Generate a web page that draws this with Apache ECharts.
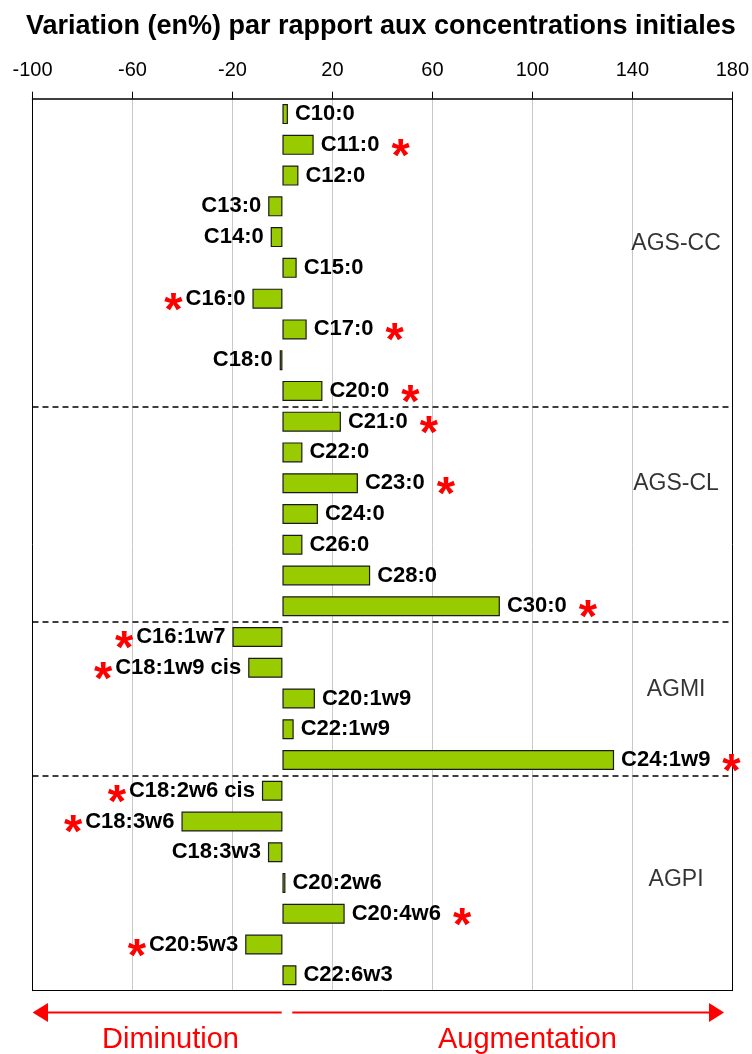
<!DOCTYPE html>
<html>
<head>
<meta charset="utf-8">
<script src="https://cdn.jsdelivr.net/npm/echarts@6/dist/echarts.min.js"></script>
<style>
html,body{margin:0;padding:0;background:#fff;}
#chart{width:752px;height:1054px;}
</style>
</head>
<body>
<div id="chart"></div>
<script>
// ---- data ----
const categories = ['C10:0','C11:0','C12:0','C13:0','C14:0','C15:0','C16:0','C17:0','C18:0','C20:0',
  'C21:0','C22:0','C23:0','C24:0','C26:0','C28:0','C30:0',
  'C16:1w7','C18:1w9 cis','C20:1w9','C22:1w9','C24:1w9',
  'C18:2w6 cis','C18:3w6','C18:3w3','C20:2w6','C20:4w6','C20:5w3','C22:6w3'];
const variation = [2.2,12.5,6.4,-5.7,-4.7,5.7,-12,9.7,-1.1,16,
  23.4,8,30.2,14.2,8,35.1,87,
  -20,-13.7,13,4.5,132.7,
  -8.2,-40.4,-5.8,1.2,24.9,-14.9,5.6];
const significant = [0,1,0,0,0,0,1,1,0,1,
  1,0,1,0,0,0,1,
  1,1,0,0,1,
  1,1,0,0,1,1,0];
const groupNames = ['AGS-CC','AGS-CL','AGMI','AGPI'];
const groupSizes = [10,7,5,7];
const axisMin = -100, axisMax = 180, axisStep = 40;
const titleText = 'Variation (en%) par rapport aux concentrations initiales';
const leftNote = 'Diminution', rightNote = 'Augmentation';

// ---- layout ----
const groupLabelRow = [4.7, 12.53, 19.2, 25.4];
const groupLabelX = 157.5;
const FONT = "'Liberation Sans', Arial, sans-serif";

const boundaries = [];
let acc = 0;
for (let i = 0; i < groupSizes.length - 1; i++) { acc += groupSizes[i]; boundaries.push(acc); }

const barData = variation.map((v, i) => ({
  value: v,
  label: { position: v < 0 ? 'left' : 'right' }
}));

const chart = echarts.init(document.getElementById('chart'), null, {renderer: 'canvas'});
const option = {
  animation: false,
  backgroundColor: '#fff',
  title: {
    text: titleText, left: 21, top: 8,
    textStyle: {fontFamily: FONT, fontSize: 27, fontWeight: 'bold', color: '#000'}
  },
  grid: {left: 32.5, right: 18.5, top: 98.7, bottom: 63.3, show: false, containLabel: false},
  xAxis: [{
    type: 'value', position: 'top', min: axisMin, max: axisMax, interval: axisStep,
    axisLine: {show: true, onZero: false, lineStyle: {color: '#000', width: 1.5}},
    axisTick: {show: true, inside: false, length: 7, lineStyle: {color: '#000', width: 1}},
    axisLabel: {fontFamily: FONT, fontSize: 20, color: '#000', margin: 18},
    splitLine: {show: true, lineStyle: {color: '#c8c8c8', width: 1}}
  }, {
    type: 'value', position: 'bottom', min: axisMin, max: axisMax,
    axisLine: {show: true, onZero: false, lineStyle: {color: '#000', width: 1}},
    axisTick: {show: false}, axisLabel: {show: false}, splitLine: {show: false}
  }],
  yAxis: [{
    type: 'category', data: categories, inverse: true, position: 'left',
    axisLine: {show: true, onZero: false, lineStyle: {color: '#000', width: 1}},
    axisTick: {show: false}, axisLabel: {show: false}, splitLine: {show: false}
  }, {
    type: 'value', min: 0, max: categories.length, inverse: true, position: 'right',
    axisLine: {show: true, onZero: false, lineStyle: {color: '#000', width: 1}},
    axisTick: {show: false}, axisLabel: {show: false}, splitLine: {show: false}
  }],
  series: [{
    type: 'bar', data: barData, barWidth: 20,
    itemStyle: {color: '#99CC00', borderColor: '#1a1a1a', borderWidth: 1.2},
    label: {
      show: true, distance: 7,
      formatter: p => {
        const name = categories[p.dataIndex];
        if (!significant[p.dataIndex]) return '{n|' + name + '}';
        return variation[p.dataIndex] < 0 ? '{sl|*}{n|' + name + '}' : '{n|' + name + '}{sr|*}';
      },
      rich: {
        n: {fontFamily: FONT, fontSize: 22, fontWeight: 'bold', color: '#000'},
        sr: {fontFamily: FONT, fontSize: 47, fontWeight: 'bold', color: '#ff0000', padding: [26, 0, 0, 12]},
        sl: {fontFamily: FONT, fontSize: 47, fontWeight: 'bold', color: '#ff0000', padding: [26, 3, 0, 0]}
      }
    }
  }, {
    type: 'scatter', xAxisIndex: 0, yAxisIndex: 1, symbolSize: 0, silent: true,
    data: groupNames.map((n, i) => ({name: n, value: [groupLabelX, groupLabelRow[i]]})),
    label: {show: true, position: 'inside', formatter: '{b}', fontFamily: FONT, fontSize: 23, color: '#000', textBorderWidth: 0},
    markLine: {
      silent: true, symbol: 'none', label: {show: false},
      lineStyle: {color: '#000', type: [6, 4], width: 1.5},
      data: boundaries.map(b => ({yAxis: b}))
    }
  }],
  graphic: [
    {type: 'line', shape: {x1: 46, y1: 1012.5, x2: 281.7, y2: 1012.5}, style: {stroke: '#ff0000', lineWidth: 2}},
    {type: 'polygon', shape: {points: [[32.6, 1012.5], [48, 1003], [48, 1022]]}, style: {fill: '#ff0000'}},
    {type: 'line', shape: {x1: 292.3, y1: 1012.5, x2: 711, y2: 1012.5}, style: {stroke: '#ff0000', lineWidth: 2}},
    {type: 'polygon', shape: {points: [[724, 1012.5], [709, 1003], [709, 1022]]}, style: {fill: '#ff0000'}},
    {type: 'text', x: 170.5, y: 1040, style: {text: leftNote, fontFamily: FONT, fontSize: 29, fill: '#ff0000', align: 'center', verticalAlign: 'middle'}},
    {type: 'text', x: 527.5, y: 1040, style: {text: rightNote, fontFamily: FONT, fontSize: 29, fill: '#ff0000', align: 'center', verticalAlign: 'middle'}}
  ]
};
chart.setOption(option);
</script>
</body>
</html>
